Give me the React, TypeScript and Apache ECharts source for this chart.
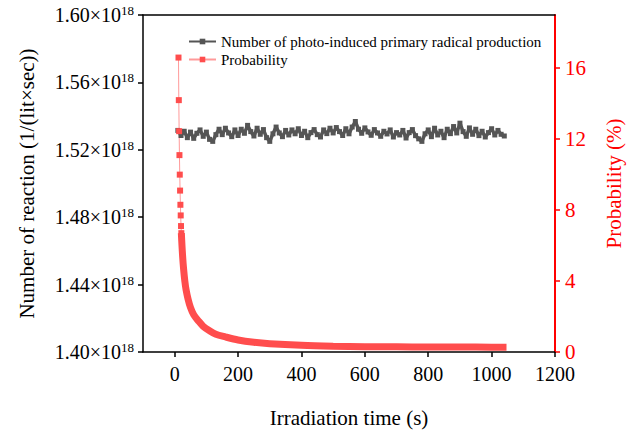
import React, { useEffect, useRef } from "react";
import * as echarts from "echarts";

// Irradiation time (s) for the radical production series
const radicalTimes: number[] = [
  10, 20, 30, 40, 50, 60, 70, 80, 90, 100, 110, 120, 130, 140, 150, 160, 170, 180, 190, 200,
  210, 220, 230, 240, 250, 260, 270, 280, 290, 300, 310, 320, 330, 340, 350, 360, 370, 380, 390, 400,
  410, 420, 430, 440, 450, 460, 470, 480, 490, 500, 510, 520, 530, 540, 550, 560, 570, 580, 590, 600,
  610, 620, 630, 640, 650, 660, 670, 680, 690, 700, 710, 720, 730, 740, 750, 760, 770, 780, 790, 800,
  810, 820, 830, 840, 850, 860, 870, 880, 890, 900, 910, 920, 930, 940, 950, 960, 970, 980, 990, 1000,
  1010, 1020, 1030, 1040,
];
// Number of reaction, in units of 10^18 (1/(lit×sec))
const radicalValues: number[] = [
  1.5315, 1.5285, 1.5310, 1.5272, 1.5305, 1.5268, 1.5298, 1.5318, 1.5280, 1.5305,
  1.5262, 1.5250, 1.5290, 1.5322, 1.5290, 1.5328, 1.5300, 1.5278, 1.5318, 1.5285,
  1.5322, 1.5298, 1.5345, 1.5308, 1.5282, 1.5328, 1.5292, 1.5320, 1.5272, 1.5250,
  1.5295, 1.5335, 1.5300, 1.5278, 1.5315, 1.5288, 1.5318, 1.5295, 1.5325, 1.5285,
  1.5310, 1.5272, 1.5302, 1.5320, 1.5290, 1.5276, 1.5318, 1.5296, 1.5328, 1.5300,
  1.5332, 1.5308, 1.5285, 1.5325, 1.5295, 1.5335, 1.5368, 1.5322, 1.5298, 1.5330,
  1.5306, 1.5286, 1.5320, 1.5300, 1.5280, 1.5310, 1.5294, 1.5318, 1.5276, 1.5302,
  1.5288, 1.5315, 1.5270, 1.5302, 1.5320, 1.5284, 1.5265, 1.5250, 1.5295, 1.5318,
  1.5278, 1.5328, 1.5288, 1.5310, 1.5272, 1.5322, 1.5296, 1.5338, 1.5300, 1.5358,
  1.5308, 1.5280, 1.5330, 1.5292, 1.5322, 1.5284, 1.5310, 1.5276, 1.5302, 1.5325,
  1.5288, 1.5315, 1.5292, 1.5282,
];

// Probability (%) — first separate points
const probEarlyTimes: number[] = [12, 13, 14, 15, 16, 17, 18, 19, 20, 21];
const probEarlyValues: number[] = [16.6, 14.2, 12.45, 11.1, 10.0, 9.1, 8.3, 7.7, 7.1, 6.7];
// Probability (%) — dense part of the curve
const probTimes: number[] = [
  21, 23, 25, 28, 32, 36, 42, 50, 60, 75, 90, 110, 130, 160, 200, 250, 300, 400, 500, 600,
  700, 800, 900, 1000, 1047,
];
const probValues: number[] = [
  6.7, 6.0, 5.4, 4.7, 4.0, 3.5, 3.0, 2.5, 2.1, 1.75, 1.45, 1.2, 1.0, 0.85, 0.68, 0.55, 0.47,
  0.38, 0.33, 0.3, 0.29, 0.28, 0.28, 0.27, 0.27,
];

const xTicks: number[] = [0, 200, 400, 600, 800, 1000, 1200];
const rightTicks: number[] = [0, 4, 8, 12, 16];

const SERIF = "'Liberation Serif', 'Times New Roman', serif";
const RED = "#ff0000";
const BAND = "#ff4d4d";
const GREY = "#555555";

export default function App() {
  const ref = useRef<HTMLDivElement>(null);
  useEffect(() => {
    if (!ref.current) return;
    const chart = echarts.init(ref.current, undefined, { renderer: "svg" });
    const zip = (a: number[], b: number[]) => a.map((t, i) => [t, b[i]]);
    chart.setOption({
      animation: false,
      backgroundColor: "#ffffff",
      textStyle: { fontFamily: SERIF },
      grid: { left: 143, right: 75, top: 15, bottom: 81, containLabel: false },
      legend: {
        orient: "vertical",
        left: 183,
        top: 29,
        itemWidth: 27,
        itemHeight: 7,
        itemGap: 3,
        textStyle: { fontFamily: SERIF, fontSize: 15, color: "#000" },
        data: ["Number of photo-induced primary radical production", "Probability"],
      },
      xAxis: [
        {
          type: "value",
          position: "bottom",
          min: -100,
          max: 1200,
          name: "Irradiation time (s)",
          nameLocation: "middle",
          nameGap: 55,
          nameTextStyle: { fontFamily: SERIF, fontSize: 21, color: "#000" },
          axisLine: { show: true, onZero: false, lineStyle: { color: "#000", width: 1.5 } },
          axisTick: { show: true, inside: false, length: 5, customValues: xTicks, lineStyle: { color: "#000", width: 1.5 } },
          axisLabel: {
            customValues: xTicks,
            margin: 12,
            fontFamily: SERIF,
            fontSize: 20,
            color: "#000",
            formatter: (v: number) => String(v),
          },
          splitLine: { show: false },
        },
        {
          type: "value",
          position: "top",
          min: -100,
          max: 1200,
          axisLine: { show: true, onZero: false, lineStyle: { color: "#000", width: 1.5 } },
          axisTick: { show: false },
          axisLabel: { show: false },
          splitLine: { show: false },
        },
      ],
      yAxis: [
        {
          type: "value",
          position: "left",
          min: 1.4,
          max: 1.6,
          interval: 0.04,
          name: "Number of reaction (1/(lit×sec))",
          nameLocation: "middle",
          nameGap: 106,
          nameTextStyle: { fontFamily: SERIF, fontSize: 21, color: "#000" },
          axisLine: { show: true, onZero: false, lineStyle: { color: "#000", width: 1.5 } },
          axisTick: { show: true, inside: false, length: 5, lineStyle: { color: "#000", width: 1.5 } },
          axisLabel: {
            margin: 9,
            color: "#000",
            formatter: (v: number) => `{m|${v.toFixed(2)}×10}{s|18}`,
            rich: {
              m: { fontFamily: SERIF, fontSize: 20, color: "#000", lineHeight: 22 },
              s: { fontFamily: SERIF, fontSize: 13, color: "#000", verticalAlign: "top", lineHeight: 12 },
            },
          },
          splitLine: { show: false },
        },
        {
          type: "value",
          position: "right",
          min: 0,
          max: 19,
          interval: 4,
          name: "Probability (%)",
          nameLocation: "middle",
          nameGap: 48,
          nameTextStyle: { fontFamily: SERIF, fontSize: 21, color: RED },
          axisLine: { show: true, onZero: false, lineStyle: { color: RED, width: 2 } },
          axisTick: { show: true, inside: false, length: 5, customValues: rightTicks, lineStyle: { color: RED, width: 1.5 } },
          axisLabel: { customValues: rightTicks, margin: 10, fontFamily: SERIF, fontSize: 21, color: RED },
          splitLine: { show: false },
        },
      ],
      series: [
        {
          name: "Number of photo-induced primary radical production",
          type: "line",
          xAxisIndex: 0,
          yAxisIndex: 0,
          data: zip(radicalTimes, radicalValues),
          symbol: "rect",
          symbolSize: 5,
          showAllSymbol: true,
          itemStyle: { color: GREY },
          lineStyle: { color: GREY, width: 3.5 },
        },
        {
          name: "Probability",
          type: "line",
          xAxisIndex: 0,
          yAxisIndex: 1,
          data: zip(probEarlyTimes, probEarlyValues),
          symbol: "rect",
          symbolSize: 6,
          showAllSymbol: true,
          itemStyle: { color: BAND },
          lineStyle: { color: "#ff9a9a", width: 1 },
        },
        {
          name: "Probability",
          type: "line",
          xAxisIndex: 0,
          yAxisIndex: 1,
          data: zip(probTimes, probValues),
          symbol: "none",
          smooth: 0.3,
          itemStyle: { color: BAND },
          lineStyle: { color: BAND, width: 7 },
        },
      ],
    });
    return () => chart.dispose();
  }, []);
  return <div ref={ref} style={{ width: 632, height: 433, position: "absolute", left: 0, top: 0 }} />;
}
